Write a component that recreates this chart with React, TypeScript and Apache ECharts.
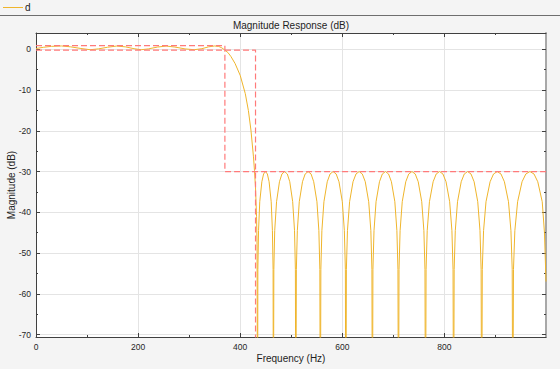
import React, { useEffect, useRef } from 'react';
import * as echarts from 'echarts';

const legendLabel = 'd';
const titleText = 'Magnitude Response (dB)';
const xAxisTitle = 'Frequency (Hz)';
const yAxisTitle = 'Magnitude (dB)';

const xLimits = [0, 999];
const yLimits = [-70.6, 4];
const xMajorTicks = [0, 200, 400, 600, 800];
const xMinorTicks = [100, 300, 500, 700, 900];
const yMajorTicks = [-70, -60, -50, -40, -30, -20, -10, 0];
const yMinorTicks = [-65, -55, -45, -35, -25, -15, -5];

// [Hz, dB]
const passbandResponse: [number, number][] = [
  [0, 0.2], [15, 0.5], [30, 0.72], [50, 0.82], [68, 0.6], [88, 0.2], [106, -0.1],
  [122, 0.1], [140, 0.5], [158, 0.8], [175, 0.6], [192, 0.15], [206, -0.1],
  [220, 0.1], [238, 0.55], [255, 0.8], [272, 0.55], [292, 0.1], [310, -0.1],
  [325, 0.15], [338, 0.6], [350, 0.82], [358, 0.7], [364, 0.35],
];

const transitionResponse: [number, number][] = [
  [370, -0.2], [376, -0.8], [382, -1.8], [390, -3.5], [400, -6.4], [410, -10.9],
  [416, -15], [421, -19.8], [426, -26.4], [428, -29.8], [430, -34], [432, -41],
  [433, -48],
];

const stopbandResponse: [number, number][] = [
  [434, -100], [434.6, -54], [435.9, -44.5], [438.3, -37.4], [442.4, -32.5], [445.8, -30.6], [449.5, -30], [453.2, -30.6], [456.6, -32.5], [460.7, -37.4], [463.1, -44.5], [464.4, -54],
  [465, -100], [465.9, -54], [467.6, -44.5], [471.2, -37.4], [476.9, -32.5], [481.7, -30.6], [487, -30], [492.3, -30.6], [497.1, -32.5], [502.8, -37.4], [506.4, -44.5], [508.1, -54],
  [509, -100], [510, -54], [511.9, -44.5], [515.7, -37.4], [522, -32.5], [527.2, -30.6], [533, -30], [538.8, -30.6], [544, -32.5], [550.3, -37.4], [554.1, -44.5], [556, -54],
  [557, -100], [558, -54], [560, -44.5], [564, -37.4], [570.5, -32.5], [576, -30.6], [582, -30], [588, -30.6], [593.5, -32.5], [600, -37.4], [604, -44.5], [606, -54],
  [607, -100], [608, -54], [610.1, -44.5], [614.3, -37.4], [621, -32.5], [626.8, -30.6], [633, -30], [639.2, -30.6], [645, -32.5], [651.7, -37.4], [655.9, -44.5], [658, -54],
  [659, -100], [660, -54], [662.1, -44.5], [666.1, -37.4], [672.8, -32.5], [678.4, -30.6], [684.5, -30], [690.6, -30.6], [696.2, -32.5], [702.9, -37.4], [706.9, -44.5], [709, -54],
  [710, -100], [711.1, -54], [713.2, -44.5], [717.4, -37.4], [724.3, -32.5], [730.1, -30.6], [736.5, -30], [742.9, -30.6], [748.7, -32.5], [755.6, -37.4], [759.8, -44.5], [761.9, -54],
  [763, -100], [764.1, -54], [766.3, -44.5], [770.7, -37.4], [777.9, -32.5], [783.9, -30.6], [790.5, -30], [797.1, -30.6], [803.2, -32.5], [810.3, -37.4], [814.7, -44.5], [816.9, -54],
  [818, -100], [819.1, -54], [821.3, -44.5], [825.7, -37.4], [832.9, -32.5], [838.9, -30.6], [845.5, -30], [852.1, -30.6], [858.2, -32.5], [865.3, -37.4], [869.7, -44.5], [871.9, -54],
  [873, -100], [874.2, -54], [876.7, -44.5], [881.5, -37.4], [889.5, -32.5], [896.2, -30.6], [903.5, -30], [910.8, -30.6], [917.5, -32.5], [925.5, -37.4], [930.3, -44.5], [932.8, -54],
  [934, -100], [935.3, -54], [938, -44.5], [943.4, -37.4], [952.1, -32.5], [959.5, -30.6], [967.5, -30], [975.5, -30.6], [982.9, -32.5], [991.6, -37.4], [996, -45], [999, -57],
];

const upperMask: [number, number][] = [[0, 0.9], [370, 0.9], [370, -30], [999, -30]];
const lowerMask: [number, number][] = [[0, -0.2], [430, -0.2], [430, -80]];

const FONT = 'Liberation Sans, Arial, Helvetica, sans-serif';
const AXIS_COLOR = '#404040';
const LABEL_COLOR = '#262626';
const CURVE_COLOR = '#EFB52C';
const MASK_COLOR = '#ff7a7a';

function App() {
  const ref = useRef<HTMLDivElement>(null);

  useEffect(() => {
    if (!ref.current) return;
    const chart = echarts.init(ref.current, null, { renderer: 'svg' });

    const baseX = { type: 'value', min: xLimits[0], max: xLimits[1], gridIndex: 0 };
    const baseY = { type: 'value', min: yLimits[0], max: yLimits[1], gridIndex: 0 };
    const noLabel = { show: false };
    const noSplit = { show: false };

    const option: any = {
      animation: false,
      backgroundColor: '#f4f4f4',
      textStyle: { fontFamily: FONT },
      grid: {
        left: 36, right: 14, top: 33, bottom: 32,
        show: true, backgroundColor: '#ffffff', borderWidth: 0,
      },
      xAxis: [
        {
          ...baseX, position: 'bottom', interval: 200,
          axisLine: { show: true, onZero: false, lineStyle: { color: AXIS_COLOR, width: 1 } },
          axisTick: { show: true, inside: true, length: 4, customValues: xMajorTicks, lineStyle: { color: AXIS_COLOR } },
          axisLabel: { show: true, customValues: xMajorTicks, margin: 5, fontSize: 8.5, color: LABEL_COLOR, fontFamily: FONT },
          splitLine: { show: true, lineStyle: { color: '#e4e4e4', width: 1 } },
        },
        {
          ...baseX, position: 'bottom',
          axisLine: { show: false, onZero: false },
          axisTick: { show: true, inside: true, length: 2, customValues: xMinorTicks, lineStyle: { color: AXIS_COLOR } },
          axisLabel: noLabel, splitLine: noSplit,
        },
        {
          ...baseX, position: 'top',
          axisLine: { show: true, onZero: false, lineStyle: { color: AXIS_COLOR, width: 1 } },
          axisTick: { show: true, inside: true, length: 4, customValues: xMajorTicks, lineStyle: { color: AXIS_COLOR } },
          axisLabel: noLabel, splitLine: noSplit,
        },
        {
          ...baseX, position: 'top',
          axisLine: { show: false, onZero: false },
          axisTick: { show: true, inside: true, length: 2, customValues: xMinorTicks, lineStyle: { color: AXIS_COLOR } },
          axisLabel: noLabel, splitLine: noSplit,
        },
      ],
      yAxis: [
        {
          ...baseY, position: 'left', splitNumber: 7,
          axisLine: { show: true, onZero: false, lineStyle: { color: AXIS_COLOR, width: 1 } },
          axisTick: { show: true, inside: true, length: 4, customValues: yMajorTicks, lineStyle: { color: AXIS_COLOR } },
          axisLabel: { show: true, customValues: yMajorTicks, margin: 5, fontSize: 8.5, color: LABEL_COLOR, fontFamily: FONT },
          splitLine: { show: true, lineStyle: { color: '#e4e4e4', width: 1 } },
        },
        {
          ...baseY, position: 'left',
          axisLine: { show: false, onZero: false },
          axisTick: { show: true, inside: true, length: 2, customValues: yMinorTicks, lineStyle: { color: AXIS_COLOR } },
          axisLabel: noLabel, splitLine: noSplit,
        },
        {
          ...baseY, position: 'right',
          axisLine: { show: true, onZero: false, lineStyle: { color: '#a8a8a8', width: 2 } },
          axisTick: { show: true, inside: true, length: 4, customValues: yMajorTicks, lineStyle: { color: AXIS_COLOR } },
          axisLabel: noLabel, splitLine: noSplit,
        },
        {
          ...baseY, position: 'right',
          axisLine: { show: false, onZero: false },
          axisTick: { show: true, inside: true, length: 2, customValues: yMinorTicks, lineStyle: { color: AXIS_COLOR } },
          axisLabel: noLabel, splitLine: noSplit,
        },
      ],
      series: [
        {
          name: legendLabel,
          type: 'line',
          xAxisIndex: 0, yAxisIndex: 0,
          data: [...passbandResponse, ...transitionResponse, ...stopbandResponse],
          symbol: 'none', showSymbol: false,
          lineStyle: { color: CURVE_COLOR, width: 1 },
          itemStyle: { color: CURVE_COLOR },
          clip: true, z: 2,
        },
        {
          name: 'upper mask',
          type: 'line',
          xAxisIndex: 0, yAxisIndex: 0,
          data: upperMask,
          symbol: 'none', silent: true,
          lineStyle: { color: MASK_COLOR, width: 1.2, type: [6, 3] },
          clip: true, z: 3,
        },
        {
          name: 'lower mask',
          type: 'line',
          xAxisIndex: 0, yAxisIndex: 0,
          data: lowerMask,
          symbol: 'none', silent: true,
          lineStyle: { color: MASK_COLOR, width: 1.2, type: [6, 3] },
          clip: true, z: 3,
        },
      ],
      graphic: [
        {
          type: 'line',
          shape: { x1: 0, y1: 15.5, x2: 560, y2: 15.5 },
          style: { stroke: '#6e6e6e', lineWidth: 1 },
          silent: true,
        },
        {
          type: 'line',
          shape: { x1: 3, y1: 7.5, x2: 23, y2: 7.5 },
          style: { stroke: CURVE_COLOR, lineWidth: 1 },
          silent: true,
        },
        {
          type: 'text', x: 25, y: 7.5,
          style: { text: legendLabel, align: 'left', verticalAlign: 'middle', fontSize: 10, fill: '#222', fontFamily: FONT },
        },
        {
          type: 'text', x: 291, y: 25,
          style: { text: titleText, align: 'center', verticalAlign: 'middle', fontSize: 10, fill: '#1e1e1e', fontFamily: FONT },
        },
        {
          type: 'text', x: 291, y: 358,
          style: { text: xAxisTitle, align: 'center', verticalAlign: 'middle', fontSize: 10, fill: '#1e1e1e', fontFamily: FONT },
        },
        {
          type: 'text', x: 11, y: 185, rotation: Math.PI / 2,
          style: { text: yAxisTitle, align: 'center', verticalAlign: 'middle', fontSize: 10, fill: '#1e1e1e', fontFamily: FONT },
        },
      ],
    };

    chart.setOption(option);
    return () => chart.dispose();
  }, []);

  return (
    <div
      ref={ref}
      style={{ position: 'absolute', left: 0, top: 0, width: 560, height: 369 }}
    />
  );
}

export default App;
